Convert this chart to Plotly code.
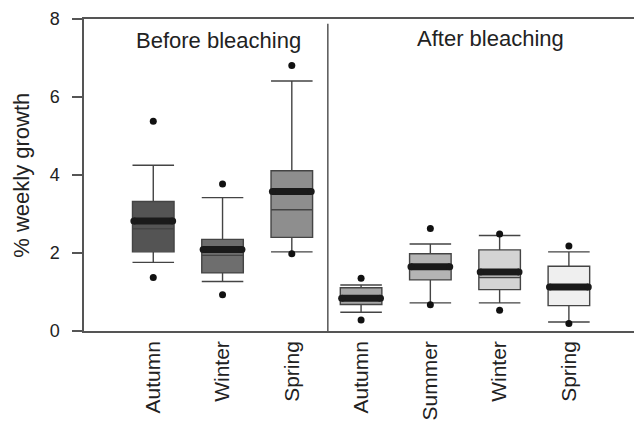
import plotly.graph_objects as go

labels = ["Autumn", "Winter", "Spring", "Autumn", "Summer", "Winter", "Spring"]
positions = [0, 1, 2, 3, 4, 5, 6]
q1 = [2.03, 1.49, 2.40, 0.68, 1.31, 1.06, 0.65]
median = [2.62, 1.94, 3.11, 0.84, 1.65, 1.37, 1.13]
q3 = [3.32, 2.35, 4.11, 1.11, 1.98, 2.08, 1.66]
lower_whisker = [1.76, 1.27, 2.03, 0.48, 0.72, 0.72, 0.23]
upper_whisker = [4.25, 3.42, 6.41, 1.18, 2.23, 2.45, 2.03]
mean = [2.82, 2.09, 3.58, 0.84, 1.65, 1.51, 1.13]
outlier_low = [1.37, 0.93, 1.98, 0.28, 0.67, 0.53, 0.19]
outlier_high = [5.38, 3.77, 6.81, 1.35, 2.63, 2.49, 2.18]
fills = ["#545454", "#6e6e6e", "#8e8e8e", "#a6a6a6", "#b4b4b4", "#d4d4d4", "#efefef"]

FONT = "Liberation Sans, Arial, sans-serif"
TXT = "#222222"

fig = go.Figure()

for i, p in enumerate(positions):
    fig.add_trace(go.Box(
        x=[p], q1=[q1[i]], median=[median[i]], q3=[q3[i]],
        lowerfence=[lower_whisker[i]], upperfence=[upper_whisker[i]],
        width=0.6, whiskerwidth=1, fillcolor=fills[i],
        line=dict(color="#444444", width=1.4), boxpoints=False,
        showlegend=False, hoverinfo="skip",
    ))

# thick mean bars with rounded ends
for i, p in enumerate(positions):
    fig.add_trace(go.Scatter(
        x=[p - 0.28, p + 0.28], y=[mean[i], mean[i]],
        mode="lines+markers",
        line=dict(color="#1a1a1a", width=7),
        marker=dict(color="#1a1a1a", size=7),
        showlegend=False, hoverinfo="skip",
    ))

# outliers
fig.add_trace(go.Scatter(
    x=positions + positions, y=outlier_low + outlier_high,
    mode="markers", marker=dict(color="#111111", size=7),
    showlegend=False, hoverinfo="skip",
))

fig.add_shape(type="line", x0=2.52, x1=2.52, y0=0, y1=7.88,
              line=dict(color="#555555", width=1.5))

fig.add_annotation(text="Before bleaching", x=0.94, y=0.931, xref="x", yref="paper",
                   showarrow=False, xanchor="center", yanchor="middle",
                   font=dict(family=FONT, size=22, color=TXT))
fig.add_annotation(text="After bleaching", x=4.87, y=0.939, xref="x", yref="paper",
                   showarrow=False, xanchor="center", yanchor="middle",
                   font=dict(family=FONT, size=22, color=TXT))
fig.add_annotation(text="% weekly growth", x=-0.115, y=0.5, xref="paper", yref="paper",
                   showarrow=False, textangle=-90, xanchor="center", yanchor="middle",
                   font=dict(family=FONT, size=22, color=TXT))

fig.update_layout(
    width=634, height=421,
    margin=dict(l=84, r=0, t=19, b=86),
    plot_bgcolor="white", paper_bgcolor="white",
    font=dict(family=FONT, color=TXT),
    xaxis=dict(range=[-1, 6.94], tickvals=positions, ticktext=labels,
               tickangle=-90, showgrid=False, zeroline=False,
               showline=True, mirror=True, linecolor="#555555", linewidth=1.5,
               ticks="", tickfont=dict(size=21, family=FONT, color=TXT)),
    yaxis=dict(range=[0, 8], tickvals=[0, 2, 4, 6, 8], showgrid=False, zeroline=False,
               showline=True, linecolor="#555555", linewidth=1.5,
               ticks="outside", ticklen=10, tickwidth=1.5, tickcolor="#555555",
               ticklabelstandoff=9, tickfont=dict(size=18, family=FONT, color=TXT)),
)

fig.write_html("out.html")
